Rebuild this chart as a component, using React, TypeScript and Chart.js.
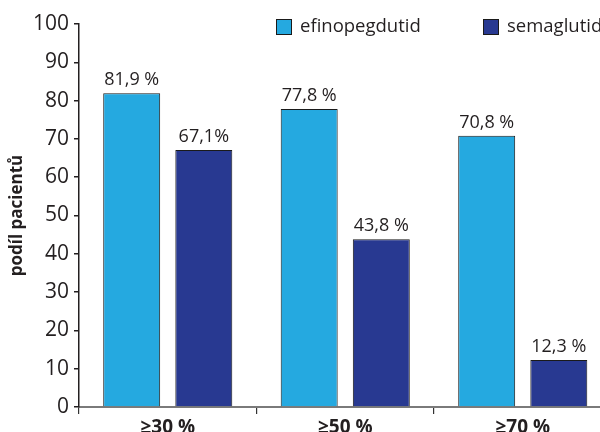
import React, { useEffect, useRef } from "react";
import { Chart, registerables } from "chart.js";

Chart.register(...registerables);

const categories = ["≥30 %", "≥50 %", "≥70 %"];
const seriesNames = ["efinopegdutid", "semaglutid"];
const efinoValues = [81.9, 77.8, 70.8];
const semaValues = [67.1, 43.8, 12.3];
const efinoLabels = ["81,9 %", "77,8 %", "70,8 %"];
const semaLabels = ["67,1%", "43,8 %", "12,3 %"];
const yMin = 0;
const yMax = 100;
const yStep = 10;
const yTitle = "podíl pacientů";

const LIGHT = "#25A9E0";
const DARK = "#283991";
const TEXT = "#231f20";
const FONT = "'Open Sans', 'Noto Sans', sans-serif";

const valueLabels = [efinoLabels, semaLabels];

const dataLabelPlugin = {
  id: "dataLabels",
  afterDatasetsDraw(chart: any) {
    const ctx = chart.ctx;
    ctx.save();
    ctx.font = `18px ${FONT}`;
    ctx.fillStyle = TEXT;
    ctx.textAlign = "center";
    ctx.textBaseline = "alphabetic";
    chart.data.datasets.forEach((ds: any, di: number) => {
      const meta = chart.getDatasetMeta(di);
      meta.data.forEach((bar: any, i: number) => {
        ctx.fillText(valueLabels[di][i], bar.x, bar.y - 8);
      });
    });
    ctx.restore();
  },
};

const legendPlugin = {
  id: "customLegend",
  afterDraw(chart: any) {
    const ctx = chart.ctx;
    const colors = [LIGHT, DARK];
    const xs = [276, 483];
    ctx.save();
    ctx.font = `18.5px ${FONT}`;
    ctx.textBaseline = "middle";
    ctx.textAlign = "left";
    seriesNames.forEach((name, i) => {
      ctx.fillStyle = colors[i];
      ctx.fillRect(xs[i], 19, 16, 16);
      ctx.strokeStyle = "#1a1a1a";
      ctx.lineWidth = 1;
      ctx.strokeRect(xs[i] + 0.5, 19.5, 15, 15);
      ctx.fillStyle = TEXT;
      ctx.fillText(name, xs[i] + 24, 27);
    });
    ctx.restore();
  },
};

export default function App() {
  const ref = useRef<HTMLCanvasElement>(null);
  useEffect(() => {
    if (!ref.current) return;
    const chart = new Chart(ref.current, {
      type: "bar",
      data: {
        labels: categories,
        datasets: [
          {
            label: seriesNames[0],
            data: efinoValues,
            backgroundColor: LIGHT,
            borderColor: "#1a1a1a",
            borderWidth: 1,
            categoryPercentage: 0.8125,
            barPercentage: 0.79,
          },
          {
            label: seriesNames[1],
            data: semaValues,
            backgroundColor: DARK,
            borderColor: "#1a1a1a",
            borderWidth: 1,
            categoryPercentage: 0.8125,
            barPercentage: 0.79,
          },
        ],
      },
      options: {
        responsive: false,
        animation: false,
        devicePixelRatio: 1,
        layout: { padding: { top: 24, right: 28.5, left: 0, bottom: 0 } },
        plugins: {
          legend: { display: false },
          tooltip: { enabled: false },
        },
        scales: {
          x: {
            offset: true,
            grid: {
              offset: true,
              drawOnChartArea: false,
              drawTicks: true,
              tickLength: 7,
              color: "#333",
              lineWidth: 1.2,
            },
            border: { display: true, color: "#7a7a7a", width: 2 },
            ticks: {
              color: TEXT,
              font: { family: FONT, size: 19, weight: "bold" },
              padding: 2,
              maxRotation: 0,
            },
            afterFit: (s: any) => {
              s.height = 25;
            },
          },
          y: {
            min: yMin,
            max: yMax,
            ticks: {
              stepSize: yStep,
              color: TEXT,
              font: { family: FONT, size: 21 },
              padding: 5,
            },
            grid: {
              drawOnChartArea: false,
              drawTicks: true,
              tickLength: 5,
              color: TEXT,
              lineWidth: 1.5,
            },
            border: { display: true, color: TEXT, width: 1.5 },
            title: {
              display: true,
              text: yTitle,
              color: TEXT,
              font: { family: FONT, size: 17, weight: "bold" },
              padding: { top: 7, bottom: 0 },
            },
            afterFit: (s: any) => {
              s.width = 79;
            },
          },
        },
      },
      plugins: [dataLabelPlugin, legendPlugin],
    });
    return () => chart.destroy();
  }, []);

  return (
    <div
      style={{
        position: "absolute",
        left: 0,
        top: 0,
        width: 600,
        height: 432,
        overflow: "hidden",
        background: "#fff",
      }}
    >
      <canvas ref={ref} width={640} height={432} style={{ display: "block" }} />
    </div>
  );
}
